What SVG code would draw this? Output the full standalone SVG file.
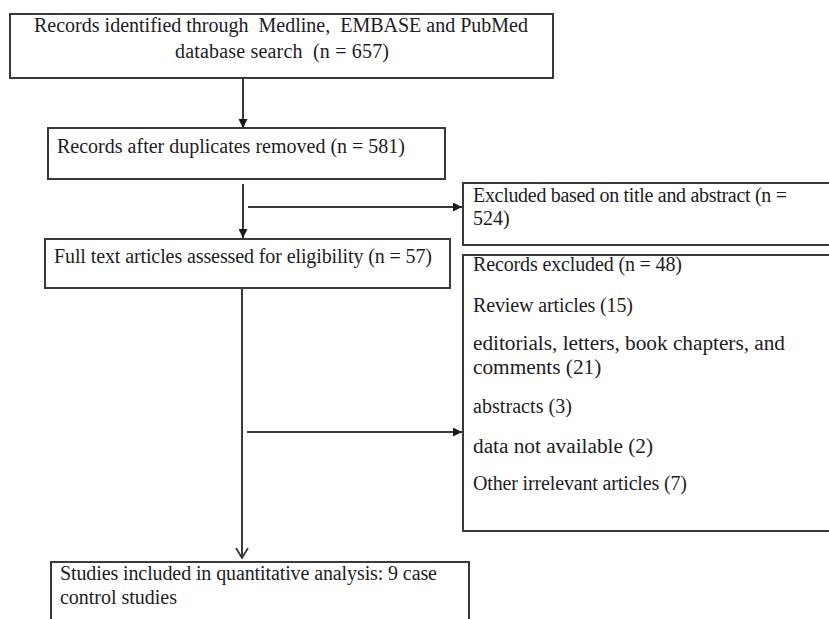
<svg xmlns="http://www.w3.org/2000/svg" width="829" height="619" viewBox="0 0 829 619">
<style>
.box{fill:#fff;stroke:#3a3a3a;stroke-width:2}
.t{font-family:"Liberation Serif","Times New Roman",serif;font-size:20px;fill:#1c1c24}
.b{font-size:21.3px}
.c{stroke:#3a3a3a;stroke-width:2;fill:none}
</style>
<defs>
<marker id="ah" viewBox="0 0 10 10" refX="10" refY="5" markerWidth="10" markerHeight="9" markerUnits="userSpaceOnUse" orient="auto">
<path d="M0,0 L10,5 L0,10 z" fill="#1a1a1a"/>
</marker>
<marker id="av" viewBox="0 0 12 14" refX="11" refY="7" markerWidth="12" markerHeight="14" markerUnits="userSpaceOnUse" orient="auto">
<path d="M1,1 L11,7 L1,13" fill="none" stroke="#3a3a3a" stroke-width="1.8"/>
</marker>
</defs>
<rect width="829" height="619" fill="#fff"/>
<g id="connectors">
<path class="c" d="M243,79 L243,128" marker-end="url(#ah)"/>
<path class="c" d="M243,184 L243,238" marker-end="url(#ah)"/>
<path class="c" d="M248,207 L462,207" marker-end="url(#ah)"/>
<path class="c" d="M242,289 L242,558" marker-end="url(#av)"/>
<path class="c" d="M247,432 L462,432" marker-end="url(#ah)"/>
</g>
<g id="n1">
<rect class="box" x="10" y="14" width="543" height="64"/>
<text class="t" x="281" y="32" text-anchor="middle" textLength="494" lengthAdjust="spacing" xml:space="preserve">Records identified through  Medline,  EMBASE and PubMed</text>
<text class="t" x="282" y="58" text-anchor="middle" textLength="214" lengthAdjust="spacing" xml:space="preserve">database search  (n = 657)</text>
</g>
<g id="n2">
<rect class="box" x="48" y="128" width="397" height="51"/>
<text class="t" x="57" y="153" textLength="348" lengthAdjust="spacing">Records after duplicates removed (n = 581)</text>
</g>
<g id="n3">
<rect class="box" x="45" y="239" width="405" height="49"/>
<text class="t" x="54" y="263" textLength="378" lengthAdjust="spacing">Full text articles assessed for eligibility (n = 57)</text>
</g>
<g id="n4">
<rect class="box" x="463" y="183" width="372" height="62"/>
<text class="t" x="473" y="202" textLength="314" lengthAdjust="spacing">Excluded based on title and abstract (n =</text>
<text class="t" x="473" y="225">524)</text>
</g>
<g id="n5">
<rect class="box" x="463" y="255" width="372" height="276"/>
<text class="t" x="473" y="271" textLength="209" lengthAdjust="spacing">Records excluded (n = 48)</text>
<text class="t" x="473" y="312" textLength="160" lengthAdjust="spacing">Review articles (15)</text>
<text class="t b" x="473" y="350" textLength="312" lengthAdjust="spacing">editorials, letters, book chapters, and</text>
<text class="t b" x="473" y="374">comments (21)</text>
<text class="t" x="473" y="413" textLength="99" lengthAdjust="spacing">abstracts (3)</text>
<text class="t b" x="473" y="453" textLength="180" lengthAdjust="spacing">data not available (2)</text>
<text class="t" x="473" y="490" textLength="214" lengthAdjust="spacing">Other irrelevant articles (7)</text>
</g>
<g id="n6">
<rect class="box" x="51" y="562" width="418" height="65"/>
<text class="t" x="60" y="580" textLength="377" lengthAdjust="spacing">Studies included in quantitative analysis: 9 case</text>
<text class="t" x="60" y="604" textLength="117" lengthAdjust="spacing">control studies</text>
</g>
</svg>
